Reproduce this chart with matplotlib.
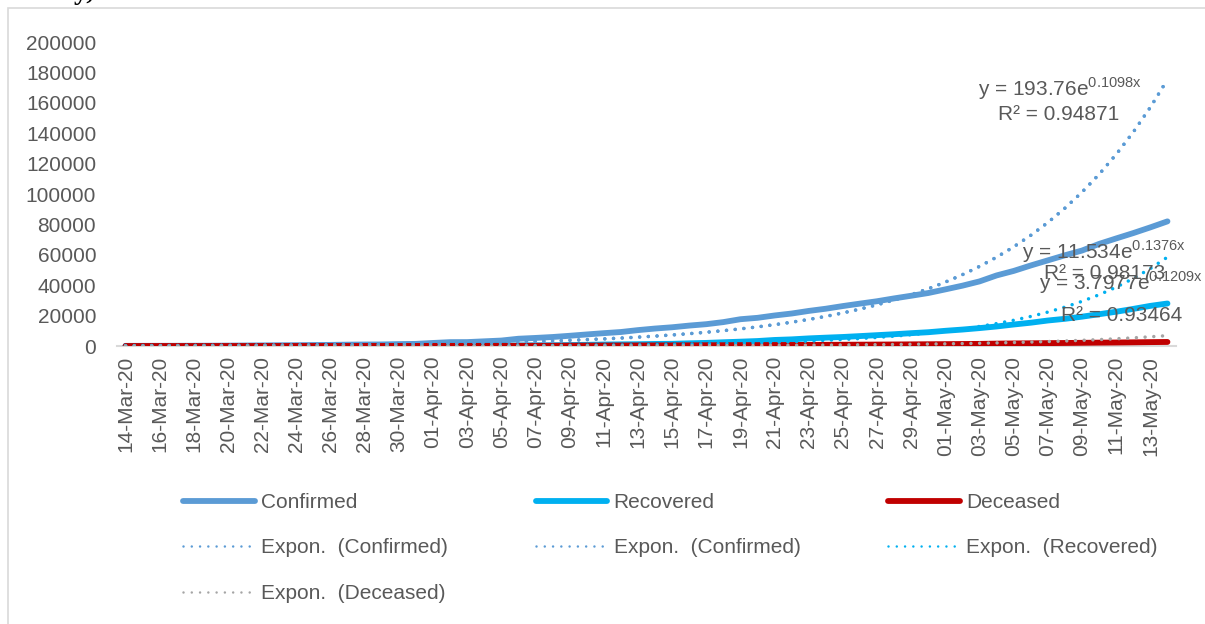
import numpy as np
import matplotlib
matplotlib.use("Agg")
import matplotlib.pyplot as plt
from matplotlib.patches import Rectangle

plt.rcParams['font.family'] = ['Liberation Sans', 'DejaVu Sans']
plt.rcParams['mathtext.fontset'] = 'custom'
plt.rcParams['mathtext.rm'] = 'Liberation Sans'

# ---------------- data ----------------
tick_labels = ["14-Mar-20", "16-Mar-20", "18-Mar-20", "20-Mar-20", "22-Mar-20", "24-Mar-20",
               "26-Mar-20", "28-Mar-20", "30-Mar-20", "01-Apr-20", "03-Apr-20", "05-Apr-20",
               "07-Apr-20", "09-Apr-20", "11-Apr-20", "13-Apr-20", "15-Apr-20", "17-Apr-20",
               "19-Apr-20", "21-Apr-20", "23-Apr-20", "25-Apr-20", "27-Apr-20", "29-Apr-20",
               "01-May-20", "03-May-20", "05-May-20", "07-May-20", "09-May-20", "11-May-20",
               "13-May-20"]

confirmed = [102, 112, 126, 146, 171, 198, 256, 334, 403, 499, 536, 657, 727, 887, 987, 1024,
             1251, 1397, 1998, 2543, 2567, 3082, 3588, 4778, 5311, 5916, 6725, 7600, 8446, 9205,
             10453, 11487, 12322, 13430, 14352, 15722, 17615, 18539, 20080, 21370, 23077, 24530,
             26283, 27890, 29451, 31324, 33062, 34863, 37257, 39699, 42505, 46437, 49400, 52987,
             56351, 59695, 62808, 67161, 70768, 74292, 78055, 81997]
recovered = [10, 13, 14, 15, 15, 20, 23, 23, 23, 34, 40, 43, 45, 73, 84, 95, 102, 123, 148, 191,
             192, 229, 229, 375, 421, 506, 620, 774, 969, 1080, 1181, 1359, 1432, 1768, 2041, 2463,
             2854, 3273, 3975, 4370, 5012, 5498, 5939, 6523, 7137, 7747, 8437, 9068, 10007, 10819,
             11775, 12847, 14142, 15331, 16776, 17887, 19301, 20917, 22549, 24420, 26400, 27969]
deceased = [2, 2, 2, 3, 3, 4, 5, 5, 7, 10, 11, 12, 20, 20, 24, 27, 32, 35, 58, 72, 72, 86, 99,
            136, 160, 178, 226, 249, 288, 331, 358, 393, 405, 448, 486, 521, 559, 592, 645, 681,
            721, 780, 825, 881, 939, 1008, 1079, 1154, 1223, 1323, 1391, 1566, 1693, 1785, 1889,
            1985, 2101, 2212, 2294, 2415, 2551, 2649]

# Excel exponential trendline coefficients shown on the chart (y = a*e^(b*x), x = 1..n)
trend_a = [193.76, 11.534, 3.7977]
trend_b = [0.1098, 0.1376, 0.1209]
trend_r2 = ["0.94871", "0.98173", "0.93464"]

# ---------------- figure ----------------
W, H = 1205, 624
fig = plt.figure(figsize=(W / 100, H / 100), dpi=100)

# outer chart frame
fig.patches.append(Rectangle((8 / W, -0.1), 1.2, 1.1 - 8 / H, transform=fig.transFigure,
                             fill=False, edgecolor='#D9D9D9', lw=1.2))
# cut-off caption fragment at top
fig.text(34 / W, 1 + 1 / H, "May, 2020", family=['Liberation Serif', 'DejaVu Serif'],
         fontsize=20, fontweight='bold', color='black', va='baseline', ha='left')

ax = fig.add_axes([117 / W, 1 - 346 / H, (1176 - 117) / W, (346 - 42) / H])
n = len(confirmed)
x = np.arange(n)
xe = x + 1

c_conf, c_rec, c_dec, c_grey = '#5B9BD5', '#00B0F0', '#C00000', '#A5A5A5'

l1, = ax.plot(x, confirmed, color=c_conf, lw=4.2, solid_capstyle='round', label='Confirmed', zorder=3)
l2, = ax.plot(x, recovered, color=c_rec, lw=4.2, solid_capstyle='round', label='Recovered', zorder=3)
l3, = ax.plot(x, deceased, color=c_dec, lw=4.2, solid_capstyle='round', label='Deceased', zorder=3)

dots = (0, (0.01, 2.5))
kw = dict(lw=2.5, linestyle=dots, dash_capstyle='round', zorder=4)
tc = trend_a[0] * np.exp(trend_b[0] * xe)
tr = trend_a[1] * np.exp(trend_b[1] * xe)
td = trend_a[2] * np.exp(trend_b[2] * xe)
t1, = ax.plot(x, tc, color=c_conf, label='Expon.  (Confirmed)', **kw)
t2, = ax.plot(x, tc, color=c_conf, label='Expon.  (Confirmed)', **kw)
t3, = ax.plot(x, tr, color=c_rec, label='Expon.  (Recovered)', **kw)
t4, = ax.plot(x, td, color=c_grey, label='Expon.  (Deceased)', **kw)

ax.set_xlim(-0.5, n - 0.5)
ax.set_ylim(0, 200000)
ax.set_yticks(np.arange(0, 200001, 20000))
ax.set_xticks(np.arange(0, len(tick_labels) * 2, 2))
ax.set_xticklabels(tick_labels, rotation=90)
ax.tick_params(axis='both', length=0, labelsize=15, labelcolor='#595959')
ax.tick_params(axis='y', pad=15)
ax.tick_params(axis='x', pad=7)
for s in ['top', 'right', 'left']:
    ax.spines[s].set_visible(False)
ax.spines['bottom'].set_color('#D9D9D9')
ax.spines['bottom'].set_linewidth(1.5)
ax.spines['bottom'].set_zorder(1)

# trendline equation labels
def sup(a, b):
    return "y = %se$^{\\mathregular{%sx}}$" % (a, b)

lab_fs = 15
tk = dict(ha='center', va='center', fontsize=lab_fs, color='#595959', zorder=6)
ax.text(54.7, 169000, sup("193.76", "0.1098"), **tk)
ax.text(54.6, 152500, "R² = " + trend_r2[0], **tk)
ax.text(57.3, 62000, sup("11.534", "0.1376"), **tk)
ax.text(57.3, 48000, "R² = " + trend_r2[1], **tk)
ax.text(58.3, 41500, sup("3.7977", "0.1209"), **tk)
ax.text(58.3, 20000, "R² = " + trend_r2[2], **tk)

handles = [l1, t1, t4, l2, t2, l3, t3]
leg = fig.legend(handles=handles, labels=[h.get_label() for h in handles], ncol=3,
                 loc='upper left', bbox_to_anchor=(183 / W, 1 - 493 / H), frameon=False,
                 fontsize=15, handlelength=3.45, handletextpad=0.3, columnspacing=4.2,
                 labelspacing=1.27, borderpad=0, borderaxespad=0)
for t in leg.get_texts():
    t.set_color('#595959')
for h in leg.legend_handles:
    if h.get_linestyle() != '-':
        h.set_linewidth(1.8)
        h.set_dashes((0.01, 3.3))
        h.set_dash_capstyle('round')

fig.savefig('out.png', dpi=100)
